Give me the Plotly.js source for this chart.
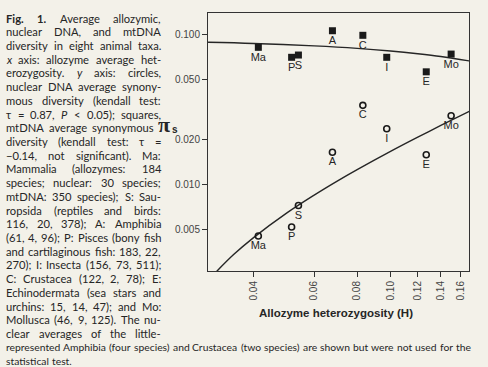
<!DOCTYPE html>
<html>
<head>
<meta charset="utf-8">
<script src="https://cdn.plot.ly/plotly-3.0.1.min.js"></script>
<style>html,body{margin:0;padding:0;background:#f3f1e9;}#chart{width:488px;height:367px;}</style>
</head>
<body>
<div id="chart"></div>
<script>
// ---- data ----
var taxa = ["Ma", "S", "A", "P", "I", "C", "E", "Mo"];
var heterozygosity = [0.0413, 0.0540, 0.0678, 0.0516, 0.0975, 0.0831, 0.127, 0.150];
var mtDNA = [0.0821, 0.0729, 0.106, 0.0704, 0.0704, 0.0988, 0.0563, 0.0740];
var nuclearDNA = [0.00449, 0.00718, 0.0163, 0.00516, 0.0234, 0.0336, 0.0157, 0.0286];

var fitNucH = [0.030, 0.035, 0.04, 0.05, 0.06, 0.07, 0.08, 0.10, 0.12, 0.14, 0.17];
var fitNucY = [0.00236, 0.00337, 0.00438, 0.00641, 0.00843, 0.01046, 0.01248, 0.01653, 0.02058, 0.02463, 0.03071];
var fitMtH = [0.0295, 0.04, 0.06, 0.08, 0.10, 0.12, 0.14, 0.17];
var fitMtY = [0.0887, 0.0871, 0.0839, 0.0808, 0.0776, 0.0744, 0.0713, 0.0665];

var xTickVals = [0.04, 0.06, 0.08, 0.10, 0.12, 0.14, 0.16];
var xTickText = ["0.04", "0.06", "0.08", "0.10", "0.12", "0.14", "0.16"];
var yTickVals = [0.005, 0.010, 0.020, 0.050, 0.100];
var yTickText = ["0.005", "0.010", "0.020", "0.050", "0.100"];

var captionLines = [
  "<b>Fig.</b> <b>1.</b> Average allozymic,",
  "nuclear DNA, and mtDNA",
  "diversity in eight animal taxa.",
  "<i>x</i> axis: allozyme average het-",
  "erozygosity. <i>y</i> axis: circles,",
  "nuclear DNA average synony-",
  "mous diversity (kendall test:",
  "τ = 0.87, <i>P</i> < 0.05); squares,",
  "mtDNA average synonymous",
  "diversity (kendall test: τ =",
  "−0.14, not significant). Ma:",
  "Mammalia (allozymes: 184",
  "species; nuclear: 30 species;",
  "mtDNA: 350 species); S: Sau-",
  "ropsida (reptiles and birds:",
  "116, 20, 378); A: Amphibia",
  "(61, 4, 96); P: Pisces (bony fish",
  "and cartilaginous fish: 183, 22,",
  "270); I: Insecta (156, 73, 511);",
  "C: Crustacea (122, 2, 78); E:",
  "Echinodermata (sea stars and",
  "urchins: 15, 14, 47); and Mo:",
  "Mollusca (46, 9, 125). The nu-",
  "clear averages of the little-",
  "represented Amphibia (four species) and Crustacea (two species) are shown but were not used for the",
  "statistical test."
];

// ---- layout helpers (pixel -> paper) ----
var L = 208, R = 19, T = 13, B = 96, W = 488, Hh = 367;
var pw = W - L - R, ph = Hh - T - B;
function px(p) { return (p - L) / pw; }
function py(p) { return (Hh - B - p) / ph; }

var ink = "#262626";
var capFamily = "Lato";
var colSize = 11.2;
var colLeft = 5, colRight = 160, wideRight = 470;

var cv = document.createElement("canvas").getContext("2d");
function setFont(size, bold, ital) {
  cv.font = (ital ? "italic " : "") + (bold ? "bold " : "") + size + "px " + capFamily;
}
function wordWidth(w, size) {
  setFont(size, w.indexOf("<b>") >= 0, w.indexOf("<i>") >= 0);
  return cv.measureText(w.replace(/<[^>]+>/g, "")).width;
}
// type size for the two full-width lines so the long one fits
setFont(10, false, false);
var wideSize = Math.min(colSize, 10 * 458 / cv.measureText(captionLines[24]).width);

var annotations = [];
captionLines.forEach(function (line, i) {
  var size = (i >= 24) ? wideSize : colSize;
  setFont(size, false, false);
  var spaceW = cv.measureText(" ").width;
  var words = line.split(" ");
  var widths = words.map(function (w) { return wordWidth(w, size); });
  var total = widths.reduce(function (a, b) { return a + b; }, 0);
  var right = (i === 24) ? wideRight : (i === 8 ? 153 : colRight);
  var gap = spaceW;
  if (i !== captionLines.length - 1 && words.length > 1) {
    gap = Math.max(spaceW * 0.5, (right - colLeft - total) / (words.length - 1));
  }
  var x = colLeft;
  var yp = py(18 + i * 13.72);
  words.forEach(function (w, k) {
    annotations.push({text: w.replace(/<(?![bi\/])/g, "&lt;"), xref: "paper", yref: "paper",
      x: px(x), y: yp, xanchor: "left", yanchor: "middle", showarrow: false, borderpad: 0,
      font: {family: capFamily, size: size, color: ink}});
    x += widths[k] + gap;
  });
});

annotations.push({text: "<b>π</b>", xref: "paper", yref: "paper", x: px(164), y: py(124),
  xanchor: "center", yanchor: "middle", showarrow: false,
  font: {family: "Liberation Serif, serif", size: 22, color: ink}});
annotations.push({text: "<b>s</b>", xref: "paper", yref: "paper", x: px(174.5), y: py(129),
  xanchor: "center", yanchor: "middle", showarrow: false,
  font: {family: "Liberation Sans, Arial, sans-serif", size: 10, color: ink}});
annotations.push({text: "<b>Allozyme heterozygosity (H)</b>", xref: "paper", yref: "paper", x: px(336), y: py(313),
  xanchor: "center", yanchor: "middle", showarrow: false,
  font: {family: "Liberation Sans, Arial, sans-serif", size: 11.5, color: ink}});

var traces = [
  {x: fitMtH, y: fitMtY, mode: "lines", line: {color: ink, width: 1.4, shape: "spline"}, hoverinfo: "skip"},
  {x: fitNucH, y: fitNucY, mode: "lines", line: {color: ink, width: 1.4, shape: "spline"}, hoverinfo: "skip"},
  {x: heterozygosity, y: mtDNA, text: taxa, mode: "markers+text", textposition: "bottom center",
   marker: {symbol: "square", size: 7, color: "#1a1a1a"},
   textfont: {family: "Liberation Sans, Arial, sans-serif", size: 11, color: ink}},
  {x: heterozygosity, y: nuclearDNA, text: taxa, mode: "markers+text", textposition: "bottom center",
   marker: {symbol: "circle-open", size: 6, color: "#1a1a1a", line: {width: 1.6, color: "#1a1a1a"}},
   textfont: {family: "Liberation Sans, Arial, sans-serif", size: 11, color: ink}}
];

var axisCommon = {showgrid: false, zeroline: false, showline: true, mirror: true, linecolor: "#333",
  linewidth: 1, ticks: "outside", ticklen: 5, tickcolor: "#333", tickwidth: 1,
  tickfont: {family: "Liberation Sans, Arial, sans-serif", size: 10, color: "#444"}};

var layout = {
  width: W, height: Hh, margin: {l: L, r: R, t: T, b: B},
  paper_bgcolor: "#f3f1e9", plot_bgcolor: "#f3f1e9", showlegend: false,
  xaxis: Object.assign({}, axisCommon, {type: "log", range: [-1.5303, -0.772], tickmode: "array",
    tickvals: xTickVals, ticktext: xTickText, tickangle: -90}),
  yaxis: Object.assign({}, axisCommon, {type: "log", range: [-2.582, -0.856], tickmode: "array",
    tickvals: yTickVals, ticktext: yTickText}),
  annotations: annotations
};

Plotly.newPlot("chart", traces, layout, {staticPlot: true, displayModeBar: false});
</script>
</body>
</html>
